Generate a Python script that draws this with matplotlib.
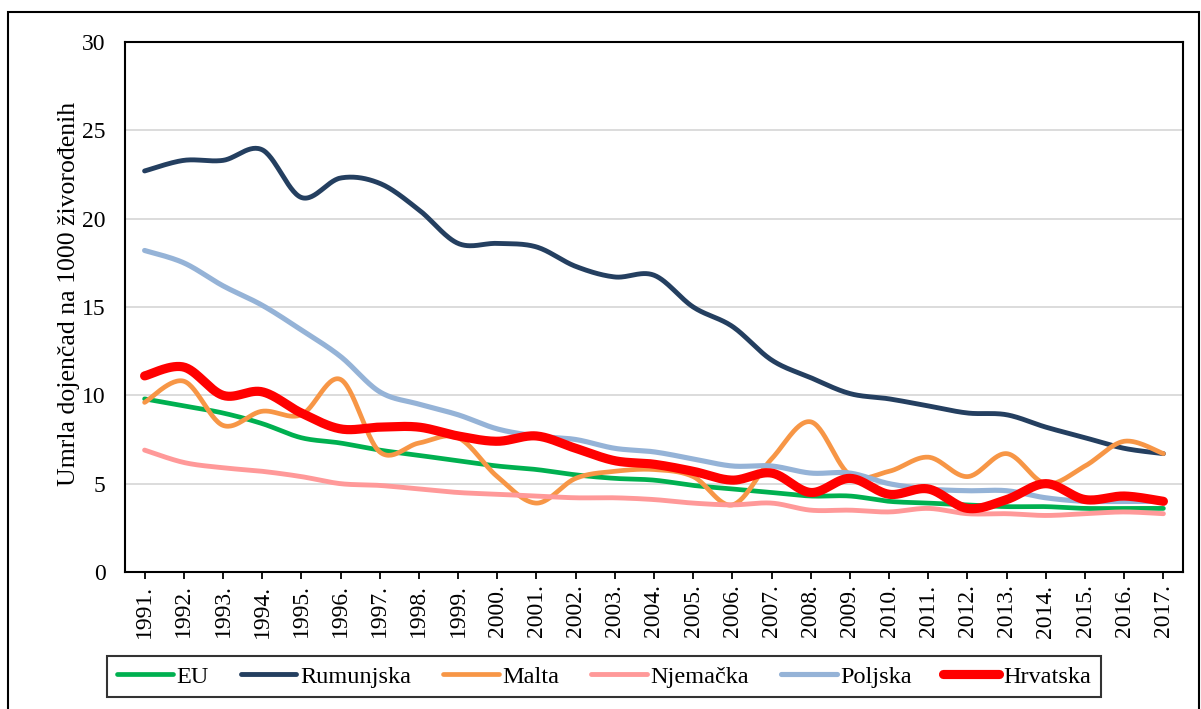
import numpy as np
import matplotlib
matplotlib.use("Agg")
import matplotlib.pyplot as plt
from matplotlib.patches import Rectangle
from matplotlib.lines import Line2D

years = [str(y) + "." for y in range(1991, 2018)]

EU = [9.8, 9.4, 9.0, 8.4, 7.6, 7.3, 6.9, 6.6, 6.3, 6.0, 5.8, 5.5, 5.3, 5.2,
      4.9, 4.7, 4.5, 4.3, 4.3, 4.0, 3.9, 3.8, 3.7, 3.7, 3.6, 3.6, 3.6]
Rumunjska = [22.7, 23.3, 23.3, 23.9, 21.2, 22.3, 22.0, 20.5, 18.6, 18.6, 18.4,
             17.3, 16.7, 16.8, 15.0, 13.9, 12.0, 11.0, 10.1, 9.8, 9.4, 9.0,
             8.9, 8.2, 7.6, 7.0, 6.7]
Malta = [9.6, 10.8, 8.3, 9.1, 8.9, 10.9, 6.8, 7.3, 7.6, 5.4, 3.9, 5.3, 5.7,
         5.8, 5.4, 3.8, 6.4, 8.5, 5.5, 5.7, 6.5, 5.4, 6.7, 5.0, 6.0, 7.4, 6.7]
Njemacka = [6.9, 6.2, 5.9, 5.7, 5.4, 5.0, 4.9, 4.7, 4.5, 4.4, 4.3, 4.2, 4.2,
            4.1, 3.9, 3.8, 3.9, 3.5, 3.5, 3.4, 3.6, 3.3, 3.3, 3.2, 3.3, 3.4, 3.3]
Poljska = [18.2, 17.5, 16.2, 15.1, 13.7, 12.2, 10.2, 9.5, 8.9, 8.1, 7.7, 7.5,
           7.0, 6.8, 6.4, 6.0, 6.0, 5.6, 5.6, 5.0, 4.7, 4.6, 4.6, 4.2, 4.0,
           4.0, 4.0]
Hrvatska = [11.1, 11.6, 10.0, 10.2, 9.0, 8.1, 8.2, 8.2, 7.7, 7.4, 7.7, 7.0,
            6.3, 6.1, 5.7, 5.2, 5.6, 4.5, 5.3, 4.4, 4.7, 3.6, 4.1, 5.0, 4.1,
            4.3, 4.0]

series = [
    ("EU", EU, "#00B050", 3.4),
    ("Rumunjska", Rumunjska, "#243F60", 3.5),
    ("Malta", Malta, "#F79646", 3.4),
    ("Njemačka", Njemacka, "#FF9999", 3.5),
    ("Poljska", Poljska, "#95B3D7", 3.7),
    ("Hrvatska", Hrvatska, "#FF0000", 6.6),
]


def smooth(xs, ys, n=30):
    """Excel-like smoothed line (Catmull-Rom Bezier segments)."""
    xs = np.asarray(xs, float)
    ys = np.asarray(ys, float)
    px = np.concatenate([[xs[0]], xs, [xs[-1]]])
    py = np.concatenate([[ys[0]], ys, [ys[-1]]])
    outx, outy = [], []
    t = np.linspace(0, 1, n, endpoint=False)
    for i in range(1, len(px) - 2):
        p0x, p1x, p2x, p3x = px[i - 1], px[i], px[i + 1], px[i + 2]
        p0y, p1y, p2y, p3y = py[i - 1], py[i], py[i + 1], py[i + 2]
        c1x = p1x + (p2x - p0x) / 6
        c1y = p1y + (p2y - p0y) / 6
        c2x = p2x - (p3x - p1x) / 6
        c2y = p2y - (p3y - p1y) / 6
        b0 = (1 - t) ** 3
        b1 = 3 * (1 - t) ** 2 * t
        b2 = 3 * (1 - t) * t ** 2
        b3 = t ** 3
        outx.append(b0 * p1x + b1 * c1x + b2 * c2x + b3 * p2x)
        outy.append(b0 * p1y + b1 * c1y + b2 * c2y + b3 * p2y)
    outx.append([xs[-1]])
    outy.append([ys[-1]])
    return np.concatenate(outx), np.concatenate(outy)


plt.rcParams["font.family"] = ["Liberation Serif", "DejaVu Serif"]

W, H = 1201, 709
fig = plt.figure(figsize=(W / 100, H / 100), dpi=100)
ax = fig.add_axes([125 / W, 1 - 572 / H, (1183 - 125) / W, (572 - 42) / H])

x = np.arange(len(years))
for name, vals, col, lw in series:
    sx, sy = smooth(x, vals)
    ax.plot(sx, sy, color=col, lw=lw, solid_capstyle="round",
            solid_joinstyle="round", label=name)

ax.set_xlim(-0.5, len(years) - 0.5)
ax.set_ylim(0, 30)
ax.set_yticks(range(0, 31, 5))
ax.set_xticks(x)
ax.set_xticklabels(years, rotation=90, fontsize=17)
ax.tick_params(axis="y", length=0, pad=14, labelsize=17)
ax.tick_params(axis="x", length=5, width=1.3, direction="out", pad=4)
ax.grid(axis="y", color="#D9D9D9", lw=1.3)
ax.set_axisbelow(True)
for sp in ax.spines.values():
    sp.set_color("black")
    sp.set_linewidth(1.5)
    sp.set_zorder(5)

ax.set_ylabel("Umrla dojenčad na 1000 živorođenih", fontsize=18.5)
ax.yaxis.set_label_coords(-0.043, 0.525)

handles = [Line2D([0], [0], color=c, lw=lw, solid_capstyle="round")
           for _, _, c, lw in series]
labels = [s[0] for s in series]
leg = fig.legend(handles, labels, loc="center", ncol=6,
                 bbox_to_anchor=(604 / W, 1 - 676.5 / H), fontsize=17.5,
                 frameon=True, fancybox=False, handlelength=2.3,
                 handletextpad=0.15, columnspacing=1.3, borderpad=0.4)
leg.get_frame().set_edgecolor("black")
leg.get_frame().set_linewidth(1.5)

fig.patches.append(Rectangle((8 / W, -0.01), (1199 - 8) / W, 1.01 - 12 / H,
                             transform=fig.transFigure, fill=False,
                             edgecolor="black", lw=1.5))

fig.savefig("out.png", dpi=100)
